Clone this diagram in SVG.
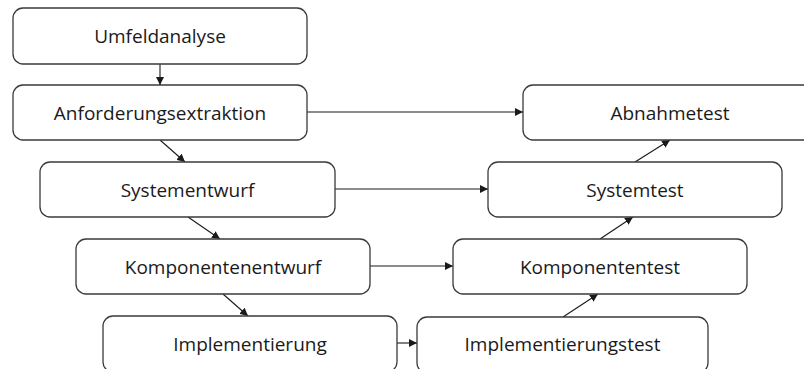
<svg xmlns="http://www.w3.org/2000/svg" width="804" height="369" viewBox="0 0 804 369">
<style>
.box{fill:#fff;stroke:#3a3a3a;stroke-width:1.3}
.lbl{font-family:"Open Sans","Liberation Sans",sans-serif;font-size:19px;fill:#1a1a1a;text-anchor:middle}
.con{stroke:#1a1a1a;stroke-width:1.1;fill:none;marker-end:url(#ah)}
</style>
<defs>
<marker id="ah" viewBox="0 0 10 10" refX="10" refY="5" markerWidth="8" markerHeight="8" markerUnits="userSpaceOnUse" orient="auto">
<path d="M0,0 L10,5 L0,10 z" fill="#1a1a1a"/>
</marker>
</defs>
<rect width="804" height="369" fill="#fff"/>
<g id="connectors">
<line class="con" x1="160" y1="64" x2="160" y2="85"/>
<line class="con" x1="307" y1="112" x2="523" y2="112"/>
<line class="con" x1="335" y1="189" x2="488" y2="189"/>
<line class="con" x1="370" y1="266" x2="453" y2="266"/>
<line class="con" x1="397" y1="343" x2="417" y2="343"/>
<line class="con" x1="160" y1="140" x2="185" y2="162"/>
<line class="con" x1="188" y1="217" x2="220" y2="239"/>
<line class="con" x1="223" y1="294" x2="248" y2="316"/>
<line class="con" x1="563" y1="317" x2="598" y2="294"/>
<line class="con" x1="600" y1="239" x2="633" y2="217"/>
<line class="con" x1="635" y1="162" x2="670" y2="140"/>
</g>
<g id="umfeldanalyse"><rect class="box" x="13" y="8" width="294" height="56" rx="10"/><text class="lbl" x="160" y="43">Umfeldanalyse</text></g>
<g id="anforderungsextraktion"><rect class="box" x="13" y="85" width="294" height="55" rx="10"/><text class="lbl" x="160" y="120">Anforderungsextraktion</text></g>
<g id="systementwurf"><rect class="box" x="40" y="162" width="295" height="55" rx="10"/><text class="lbl" x="187.5" y="197">Systementwurf</text></g>
<g id="komponentenentwurf"><rect class="box" x="76" y="239" width="294" height="55" rx="10"/><text class="lbl" x="223" y="274">Komponentenentwurf</text></g>
<g id="implementierung"><rect class="box" x="103" y="316" width="294" height="56" rx="10"/><text class="lbl" x="250" y="351">Implementierung</text></g>
<g id="abnahmetest"><rect class="box" x="523" y="85" width="294" height="55" rx="10"/><text class="lbl" x="670" y="120">Abnahmetest</text></g>
<g id="systemtest"><rect class="box" x="488" y="162" width="294" height="55" rx="10"/><text class="lbl" x="635" y="197">Systemtest</text></g>
<g id="komponententest"><rect class="box" x="453" y="239" width="294" height="55" rx="10"/><text class="lbl" x="600" y="274">Komponententest</text></g>
<g id="implementierungstest"><rect class="box" x="417" y="317" width="291" height="56" rx="10"/><text class="lbl" x="562.5" y="351">Implementierungstest</text></g>
</svg>
